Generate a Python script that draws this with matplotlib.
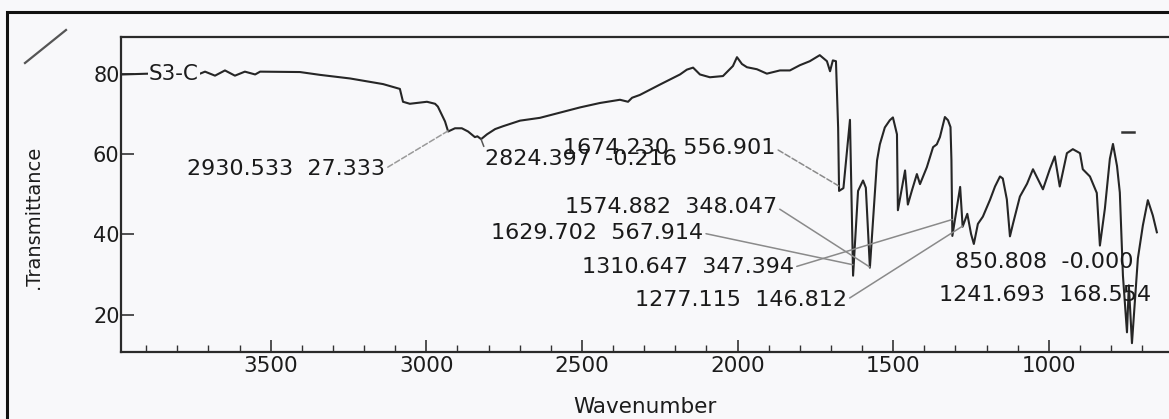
import numpy as np
import matplotlib
matplotlib.use('Agg')
import matplotlib.pyplot as plt
from matplotlib.patches import Rectangle
from matplotlib.lines import Line2D
from matplotlib.ticker import MultipleLocator

# spectrum (wavenumber, %T)
wavenumber = [
    3975, 3891, 3727, 3711, 3679, 3647, 3615, 3583, 3550, 3534, 3406, 3342,
    3245, 3139, 3085, 3075, 3053, 2998, 2972, 2963, 2940, 2930, 2908, 2886,
    2866, 2844, 2836, 2824, 2805, 2779, 2754, 2699, 2635, 2571, 2506, 2442,
    2378, 2352, 2339, 2314, 2249, 2185, 2163, 2143, 2121, 2089, 2047, 2015,
    2002, 1986, 1970, 1938, 1906, 1864, 1832, 1800, 1768, 1736, 1713, 1703,
    1694, 1684, 1677, 1674, 1660, 1639, 1629, 1613, 1597, 1588, 1575, 1552,
    1543, 1527, 1511, 1501, 1488, 1485, 1462, 1453, 1440, 1424, 1414, 1392,
    1372, 1360, 1350, 1334, 1324, 1316, 1313, 1310, 1285, 1277, 1262, 1250,
    1241, 1228, 1212, 1189, 1173, 1157, 1148, 1135, 1125, 1115, 1093, 1070,
    1051, 1019, 997, 981, 965, 942, 923, 900, 891, 868, 846, 836, 820, 804,
    794, 781, 772, 762, 749, 743, 733, 714, 698, 682, 666, 653,
]
transmittance = [
    79.8, 80.0, 80.0, 80.5, 79.5, 80.8, 79.5, 80.5, 79.8, 80.5, 80.4, 79.7,
    78.8, 77.4, 76.2, 73.0, 72.5, 73.0, 72.5, 71.8, 68.1, 65.6, 66.4, 66.4,
    65.6, 64.2, 64.4, 63.7, 64.9, 66.2, 66.9, 68.3, 69.0, 70.3, 71.6, 72.7,
    73.5, 73.0, 74.0, 74.7, 77.3, 79.8, 81.0, 81.5, 79.8, 79.1, 79.4, 81.9,
    84.1, 82.4, 81.6, 81.1, 80.0, 80.8, 80.8, 82.1, 83.1, 84.6, 83.1, 80.6,
    83.3, 83.1, 66.5, 50.8, 51.5, 68.5, 29.7, 50.8, 53.4, 51.6, 31.7, 58.4,
    62.4, 66.6, 68.4, 69.1, 64.9, 46.0, 55.9, 47.4, 50.9, 55.0, 52.5, 56.7,
    61.7, 62.4, 64.2, 69.2, 68.4, 66.7, 58.5, 39.6, 51.8, 41.9, 45.1, 40.1,
    37.6, 42.6, 44.4, 48.6, 51.9, 54.4, 53.9, 48.7, 39.5, 42.7, 49.4, 52.6,
    56.2, 51.2, 56.2, 59.4, 51.9, 60.2, 61.2, 60.2, 56.2, 54.4, 50.3, 37.2,
    46.4, 58.8, 62.5, 57.0, 50.4, 29.7, 15.6, 27.3, 12.9, 34.0, 42.2, 48.5,
    44.7, 40.5,
]

sample_name = 'S3-C'
peak_wn = ['2930.533', '2824.397', '1674.230', '1574.882', '1629.702',
           '1310.647', '1277.115', '850.808', '1241.693']
peak_val = ['27.333', '-0.216', '556.901', '348.047', '567.914',
            '347.394', '146.812', '-0.000', '168.554']

# where each label sits (left edge, vertical centre) and how its leader is drawn
label_xy = [(3769, 56.3), (2812, 58.7), (2561, 61.4), (2555, 46.7), (2792, 40.3),
            (2500, 31.8), (2330, 23.7), (1302, 33.1), (1353, 24.9)]
leader = [((1, 0.5), '--', '#9a9a9a'), ((0, 1), '-', '#555555'),
          ((1, 0.5), '--', '#8a8a8a'), ((1, 0.5), '-', '#8a8a8a'),
          ((1, 0.5), '-', '#8a8a8a'), ((1, 0.5), '-', '#8a8a8a'),
          ((1, 0.5), '-', '#8a8a8a'), None, None]

W, H = 1169, 419
fig = plt.figure(figsize=(W / 100, H / 100), dpi=100)
fig.patch.set_facecolor('#f8f8fa')

ax = fig.add_axes([121 / W, 1 - 352 / H, 1 - 121 / W, (352 - 37.5) / H])
ax.set_facecolor('none')

wn = np.array(wavenumber, dtype=float)
tr = np.array(transmittance, dtype=float)
ax.plot(wn, tr, color='#262626', lw=1.5)

ax.set_xlim(3981, 614)
ax.set_ylim(10.7, 89)

ax.xaxis.set_major_locator(MultipleLocator(500))
ax.xaxis.set_minor_locator(MultipleLocator(100))
ax.set_yticks([20, 40, 60, 80])
ax.tick_params(axis='both', which='major', direction='in', length=9,
               width=1.2, color='#333333', labelcolor='#1c1c1c')
ax.tick_params(axis='x', which='minor', direction='in', length=5,
               width=1.0, color='#333333')
ax.tick_params(axis='x', labelsize=15.5, pad=3)
ax.tick_params(axis='y', labelsize=15, pad=1)
ax.tick_params(axis='y', which='minor', left=False)

for side in ['left', 'top', 'bottom']:
    ax.spines[side].set_linewidth(1.6)
    ax.spines[side].set_color('#2a2a2a')
ax.spines['right'].set_visible(False)

ax.set_xlabel('Wavenumber', fontsize=15.5, color='#1c1c1c')
ax.xaxis.set_label_coords(0.5, -0.143)
ax.set_ylabel('.Transmittance', fontsize=14, color='#1c1c1c')
ax.yaxis.set_label_coords(-0.075, 0.43)

# sample name sits on the start of the trace
ax.text(3891, 79.8, sample_name, fontsize=15.5, color='#1c1c1c',
        ha='left', va='center',
        bbox=dict(facecolor='#f8f8fa', edgecolor='none', pad=0.5))

wn_inc = wn[::-1]
tr_inc = tr[::-1]
for i in range(len(peak_wn)):
    txt = peak_wn[i] + '  ' + peak_val[i]
    pos = label_xy[i]
    if leader[i] is None:
        ax.text(pos[0], pos[1], txt, fontsize=16, color='#1a1a1a',
                ha='left', va='center')
        continue
    rel, ls, col = leader[i]
    w = float(peak_wn[i])
    target = (w, np.interp(w, wn_inc, tr_inc))
    ax.annotate(txt, xy=target, xytext=pos, textcoords='data',
                fontsize=16, color='#1a1a1a', ha='left', va='center',
                arrowprops=dict(arrowstyle='-', color=col, lw=1.1,
                                linestyle=ls, relpos=rel,
                                shrinkA=0, shrinkB=0))

# page frame and pen marks from the scan
fig.patches.append(Rectangle((7 / W, -0.05), 1.2, 1 - 12 / H + 0.05,
                             transform=fig.transFigure, fill=False,
                             edgecolor='#111111', lw=2.2))
fig.lines.append(Line2D([25 / W, 66 / W], [1 - 63 / H, 1 - 30 / H],
                        transform=fig.transFigure, color='#555555', lw=1.6))
fig.lines.append(Line2D([1122 / W, 1134 / W], [1 - 132 / H, 1 - 132 / H],
                        transform=fig.transFigure, color='#333333', lw=1.8))

fig.savefig('out.png', dpi=100, facecolor=fig.get_facecolor())
